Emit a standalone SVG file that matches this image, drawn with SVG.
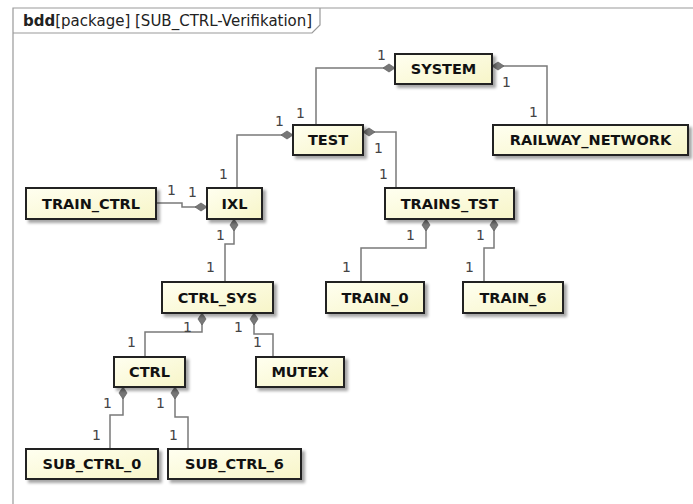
<svg xmlns="http://www.w3.org/2000/svg" width="693" height="504" viewBox="0 0 693 504">
<defs>
<linearGradient id="fillG" x1="0" y1="0" x2="1" y2="1">
<stop offset="0" stop-color="#fffff0"/>
<stop offset="1" stop-color="#f7f5c8"/>
</linearGradient>
<filter id="sh" x="-10%" y="-20%" width="130%" height="160%">
<feDropShadow dx="3" dy="3" stdDeviation="1.5" flood-color="#000" flood-opacity="0.35"/>
</filter>
<marker id="dia" markerUnits="userSpaceOnUse" markerWidth="14" markerHeight="10" viewBox="0 -5 14 10" refX="0" refY="0" orient="auto">
<path d="M0,0 L6,-4 L12,0 L6,4 Z" fill="#777" stroke="#666" stroke-width="0.8"/>
</marker>
<style>
.box{fill:url(#fillG);stroke:#222;stroke-width:2;filter:url(#sh)}
.lbl{font-family:"DejaVu Sans",sans-serif;font-weight:bold;font-size:14.5px;fill:#111;text-anchor:middle}
.conn{fill:none;stroke:#7a7a7a;stroke-width:1.5;marker-start:url(#dia)}
.m{font-family:"DejaVu Sans",sans-serif;font-size:14px;fill:#444}
.frame{fill:none;stroke:#999;stroke-width:1.2}
</style>
</defs>
<rect width="693" height="504" fill="#fff"/>
<g id="frame">
<path class="frame" d="M13,504 V8 H693"/>
<path class="frame" d="M13,33 H312 L320,25 V8"/>
<text x="23" y="26" font-family="DejaVu Sans, sans-serif" font-size="15" fill="#222"><tspan font-weight="bold">bdd</tspan>[package] [SUB_CTRL-Verifikation]</text>
</g>
<g id="connectors">
<path class="conn" d="M395,68 H316 V125"/>
<path class="conn" d="M492,66 H547 V125"/>
<path class="conn" d="M293,135 H237 V188"/>
<path class="conn" d="M363,132 H396 V188"/>
<path class="conn" d="M207,207 H182 V203 H156"/>
<path class="conn" d="M234,219 V244 H225 V282"/>
<path class="conn" d="M426,219 V248 H361 V282"/>
<path class="conn" d="M494,219 V248 H484 V282"/>
<path class="conn" d="M202,313 V332 H145 V357"/>
<path class="conn" d="M254,313 V334 H273 V357"/>
<path class="conn" d="M123,387 V415 H110 V449"/>
<path class="conn" d="M175,387 V417 H188 V449"/>
</g>
<g id="multiplicities">
<text class="m" x="377" y="60">1</text>
<text class="m" x="296" y="118">1</text>
<text class="m" x="502" y="87">1</text>
<text class="m" x="529" y="117">1</text>
<text class="m" x="275" y="126">1</text>
<text class="m" x="219" y="179">1</text>
<text class="m" x="374" y="153">1</text>
<text class="m" x="379" y="179">1</text>
<text class="m" x="167" y="195">1</text>
<text class="m" x="188" y="197">1</text>
<text class="m" x="216" y="240">1</text>
<text class="m" x="206" y="272">1</text>
<text class="m" x="406" y="240">1</text>
<text class="m" x="342" y="272">1</text>
<text class="m" x="476" y="240">1</text>
<text class="m" x="465" y="272">1</text>
<text class="m" x="183" y="332">1</text>
<text class="m" x="127" y="347">1</text>
<text class="m" x="234" y="332">1</text>
<text class="m" x="253" y="347">1</text>
<text class="m" x="103" y="408">1</text>
<text class="m" x="92" y="440">1</text>
<text class="m" x="156" y="408">1</text>
<text class="m" x="169" y="440">1</text>
</g>
<g id="SYSTEM"><rect class="box" x="395" y="54" width="97" height="30"/><text class="lbl" x="443.5" y="74">SYSTEM</text></g>
<g id="RAILWAY_NETWORK"><rect class="box" x="493" y="125" width="195" height="30"/><text class="lbl" x="590.5" y="145">RAILWAY_NETWORK</text></g>
<g id="TEST"><rect class="box" x="293" y="125" width="70" height="30"/><text class="lbl" x="328" y="145">TEST</text></g>
<g id="TRAIN_CTRL"><rect class="box" x="26" y="188" width="130" height="31"/><text class="lbl" x="91" y="208.5">TRAIN_CTRL</text></g>
<g id="IXL"><rect class="box" x="207" y="188" width="55" height="31"/><text class="lbl" x="234.5" y="208.5">IXL</text></g>
<g id="TRAINS_TST"><rect class="box" x="385" y="188" width="129" height="31"/><text class="lbl" x="449.5" y="208.5">TRAINS_TST</text></g>
<g id="CTRL_SYS"><rect class="box" x="162" y="282" width="111" height="31"/><text class="lbl" x="217.5" y="302.5">CTRL_SYS</text></g>
<g id="TRAIN_0"><rect class="box" x="326" y="282" width="98" height="31"/><text class="lbl" x="375" y="302.5">TRAIN_0</text></g>
<g id="TRAIN_6"><rect class="box" x="463" y="282" width="100" height="31"/><text class="lbl" x="513" y="302.5">TRAIN_6</text></g>
<g id="CTRL"><rect class="box" x="114" y="357" width="71" height="30"/><text class="lbl" x="149.5" y="377">CTRL</text></g>
<g id="MUTEX"><rect class="box" x="256" y="357" width="88" height="30"/><text class="lbl" x="300" y="377">MUTEX</text></g>
<g id="SUB_CTRL_0"><rect class="box" x="26" y="449" width="132" height="30"/><text class="lbl" x="92" y="469">SUB_CTRL_0</text></g>
<g id="SUB_CTRL_6"><rect class="box" x="168" y="449" width="133" height="30"/><text class="lbl" x="234.5" y="469">SUB_CTRL_6</text></g>
</svg>
